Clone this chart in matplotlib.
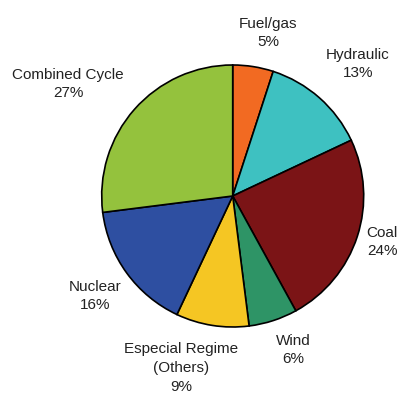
import numpy as np
from matplotlib import pyplot as plt

# datos del grafico
fuentes = ['Fuel/gas', 'Hydraulic', 'Coal', 'Wind', 'Especial Regime\n(Others)', 'Nuclear', 'Combined Cycle']
porcentajes = [5, 13, 24, 6, 9, 16, 27]
colores = ['#F26A22', '#3EC1C1', '#7B1416', '#2E9466', '#F5C623', '#2E4FA1', '#94C23D']

# posicion de etiquetas en pixeles de la imagen (x, y desde arriba)
pos_etiquetas = [(268, 33), (358, 64), (382, 242), (293, 350), (181, 368), (95, 296), (68, 84)]

W, H = 400, 396
cx, cy, R = 232.7, 196.0, 131.0


def graficar():
    fig = plt.figure(figsize=(W / 100, H / 100), dpi=100)
    ax = fig.add_axes([0, 0, 1, 1])
    ax.pie(porcentajes, colors=colores, startangle=90, counterclock=False,
           radius=1, center=(0, 0),
           wedgeprops={'edgecolor': 'black', 'linewidth': 1.2})
    ax.set_aspect('auto')
    ax.set_xlim(-cx / R, (W - cx) / R)
    ax.set_ylim((cy - H) / R, cy / R)
    ax.axis('off')

    for nombre, p, (px, py) in zip(fuentes, porcentajes, pos_etiquetas):
        ax.text((px - cx) / R, (cy - py) / R, nombre + '\n' + str(p) + '%',
                ha='center', va='center', fontsize=11, linespacing=1.45,
                family='Liberation Sans', color='#222222')

    fig.savefig('out.png', dpi=100)


if __name__ == '__main__':
    graficar()
